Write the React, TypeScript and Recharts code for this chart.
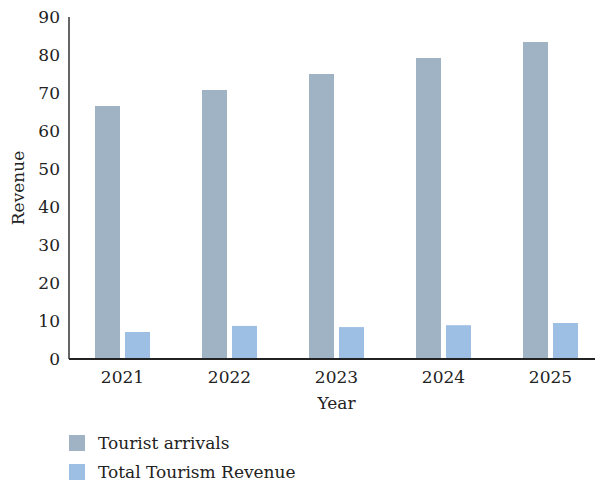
import React from 'react';
import { BarChart, Bar, XAxis, YAxis, Legend } from 'recharts';

const years = ['2021', '2022', '2023', '2024', '2025'];
const touristArrivals = [66.6, 70.8, 75.0, 79.2, 83.4];
const totalTourismRevenue = [7.1, 8.7, 8.4, 8.9, 9.5];
const yTicks = [0, 10, 20, 30, 40, 50, 60, 70, 80, 90];

const seriesNames = ['Tourist arrivals', 'Total Tourism Revenue'];
const colors = ['#9fb3c4', '#9dbfe3'];

const data = years.map((y, i) => ({
  year: y,
  arrivals: touristArrivals[i],
  revenue: totalTourismRevenue[i],
}));

const FONT = '"DejaVu Serif", "Liberation Serif", serif';

const LegendContent = () => (
  <div style={{ height: 70, fontFamily: FONT, fontSize: 17, color: '#222' }}>
    {seriesNames.map((n, i) => (
      <div
        key={n}
        style={{
          position: 'absolute',
          left: 61,
          top: i === 0 ? 24 : 53,
          display: 'flex',
          alignItems: 'center',
          height: 16,
        }}
      >
        <div style={{ width: 16, height: 16, background: colors[i], marginRight: 13 }} />
        <span style={{ whiteSpace: 'nowrap' }}>{n}</span>
      </div>
    ))}
  </div>
);

export default function App() {
  return (
    <div style={{ position: 'absolute', left: 0, top: 0, width: 595, height: 481, overflow: 'hidden' }}>
      <BarChart
        width={604}
        height={481}
        data={data}
        margin={{ top: 17, right: 0, left: 8, bottom: 0 }}
        barSize={25}
        barGap={5}
      >
        <XAxis
          dataKey="year"
          height={52}
          axisLine={{ stroke: '#222', strokeWidth: 2 }}
          tickLine={false}
          tickSize={6}
          tickMargin={6}
          tick={{ fill: '#222', fontSize: 17, fontFamily: FONT }}
          label={{ value: 'Year', position: 'insideBottom', offset: 2, fill: '#222', fontSize: 17, fontFamily: FONT }}
        />
        <YAxis
          width={61}
          domain={[0, 90]}
          ticks={yTicks}
          interval={0}
          axisLine={{ stroke: '#333', strokeWidth: 1.5 }}
          tickLine={false}
          tickSize={6}
          tickMargin={3}
          tick={{ fill: '#222', fontSize: 17, fontFamily: FONT }}
          label={{
            value: 'Revenue',
            angle: -90,
            position: 'insideLeft',
            offset: 10,
            fill: '#222',
            fontSize: 17,
            fontFamily: FONT,
            style: { textAnchor: 'middle' },
          }}
        />
        <Legend verticalAlign="bottom" align="center" height={70} content={<LegendContent />} />
        <Bar dataKey="arrivals" name={seriesNames[0]} fill={colors[0]} isAnimationActive={false} />
        <Bar dataKey="revenue" name={seriesNames[1]} fill={colors[1]} isAnimationActive={false} />
      </BarChart>
    </div>
  );
}
